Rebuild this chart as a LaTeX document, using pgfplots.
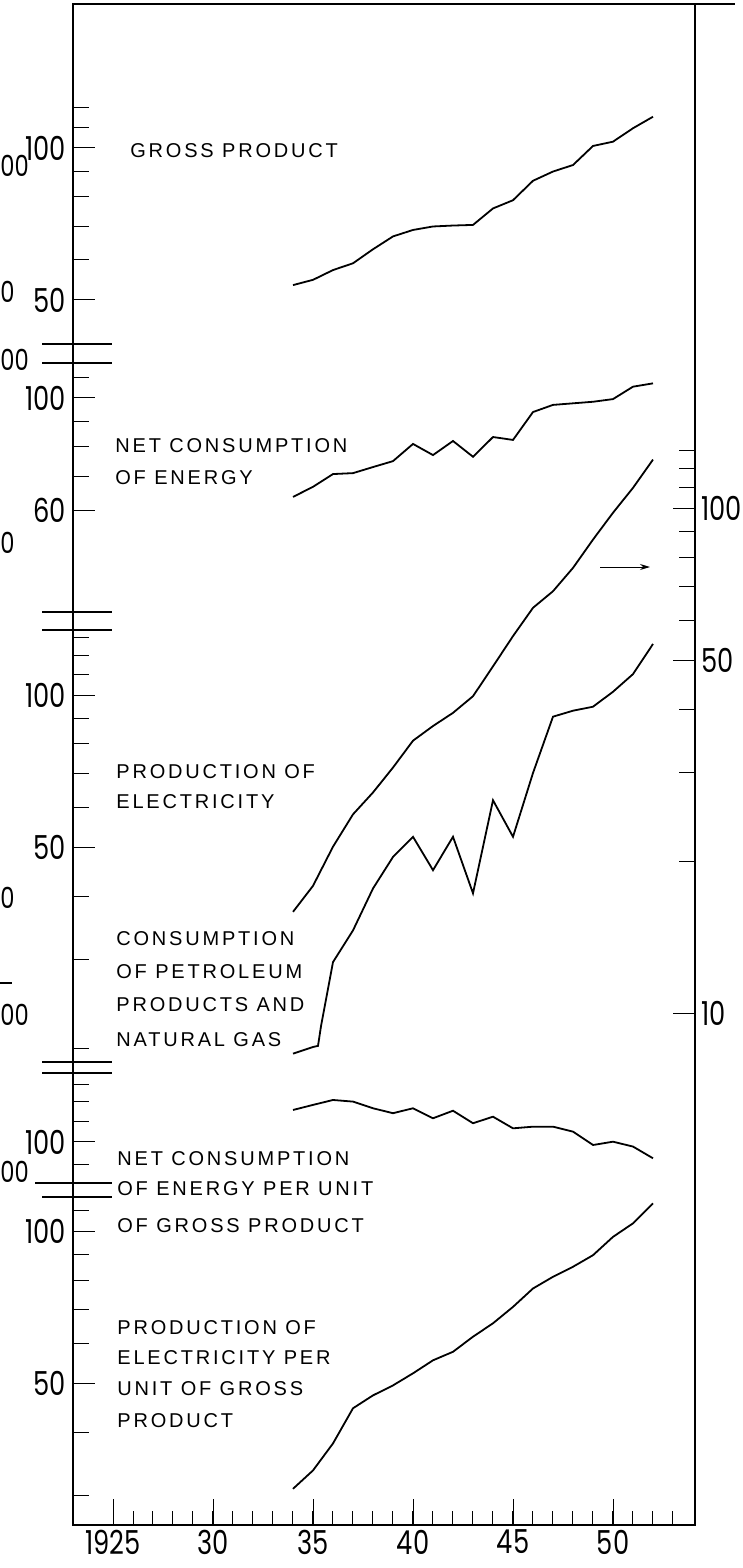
\documentclass[border=0pt]{standalone}
\usepackage{fontspec}
\setmainfont{Liberation Sans}
\newfontfamily\numfont[FakeStretch=0.78]{Poppins}
\newfontfamily\lblfont[LetterSpace=14]{Liberation Sans}
\usepackage{pgfplots}
\pgfplotsset{compat=1.18}
\usetikzlibrary{arrows.meta}

% 1 px of the reference = 0.5pt
\newcommand{\numsize}{\numfont\fontsize{16.5}{17}\selectfont}
\newcommand{\lbl}[3]{\node[anchor=base west,inner sep=0pt,font=\lblfont\fontsize{10}{16}\selectfont] at (#1,#2) {#3};}
\newcommand{\frag}[3]{\node[anchor=west,inner sep=0pt,font=\numfont\fontsize{14.5}{15}\selectfont] at (#1,#2) {#3};}

\pgfplotsset{
  panel/.style={
    scale only axis, width=311pt,
    anchor=south west,
    xmin=1923, xmax=1954.1,
    axis line style={draw=none},
    xtick=\empty,
    ytick pos=left,
    tick align=inside,
    major tick length=8pt,
    tick style={line width=0.5pt, black},
    yticklabels={},
    extra y tick style={major tick length=11pt},
    tick label style={font=\numsize},
    clip=false,
  },
  curve/.style={black, line width=0.9pt, no markers},
}

\begin{document}
\begin{tikzpicture}
\useasboundingbox (0pt,0pt) rectangle (371.5pt,-784pt);

% frame with the year axis
\begin{axis}[
  scale only axis, width=311pt, height=760.5pt,
  at={(36.5pt,-762.5pt)}, anchor=south west,
  xmin=1923, xmax=1954.1, ymin=0, ymax=1,
  ytick=\empty,
  xtick={1925,1930,1935,1940,1945,1950},
  xticklabels={1925,30,35,40,45,50},
  minor xtick={1926,1927,...,1953},
  xtick pos=bottom, tick align=inside,
  major tick length=13pt, minor tick length=7pt,
  tick style={line width=0.5pt, black},
  axis line style={line width=0.6pt},
  tick label style={font=\numsize},
  xticklabel style={yshift=1pt},
]
\end{axis}

% gross product
\begin{axis}[ymode=log, panel, at={(36.5pt,-172pt)}, height=170pt,
  ymin=40.9, ymax=192.8,
  ytick={60,70,80,90,110,120},
  extra y ticks={50,100}, extra y tick labels={50,100}]
\addplot[curve] coordinates {
  (1934,53.5) (1935,54.8) (1936,57.3) (1937,59.1) (1938,63.0) (1939,66.8)
  (1940,68.8) (1941,69.9) (1942,70.2) (1943,70.4) (1944,75.9) (1945,78.8)
  (1946,86.1) (1947,89.8) (1948,92.5) (1949,100.9) (1950,102.9) (1951,109.4)
  (1952,115.3)};
\end{axis}

% net consumption of energy
\begin{axis}[ymode=log, panel, at={(36.5pt,-306pt)}, height=124.5pt,
  ymin=37.7, ymax=117.3,
  ytick={70,80,90,110},
  extra y ticks={60,100}, extra y tick labels={60,100}]
\addplot[curve] coordinates {
  (1934,63.7) (1935,66.7) (1936,70.7) (1937,71.0) (1938,73.0) (1939,75.0)
  (1940,81.1) (1941,77.1) (1942,82.2) (1943,76.5) (1944,83.7) (1945,82.6)
  (1946,93.8) (1947,96.9) (1948,97.6) (1949,98.3) (1950,99.5) (1951,105.3)
  (1952,106.9)};
\end{axis}

% petroleum products and natural gas (left scale)
\begin{axis}[ymode=log, panel, at={(36.5pt,-531pt)}, height=216pt,
  ymin=18.77, ymax=134.5,
  ytick={20,30,40,60,70,80,90,110,120,130},
  extra y ticks={50,100}, extra y tick labels={50,100}]
\addplot[curve] coordinates {
  (1934,19.5) (1935,20.1) (1935.25,20.2) (1935.4,22.1) (1936,29.6) (1937,34.2)
  (1938,41.4) (1939,47.8) (1940,52.4) (1941,45.0) (1942,52.4) (1943,40.5)
  (1944,61.9) (1945,52.4) (1946,70.1) (1947,90.6) (1948,93.1) (1949,94.8)
  (1950,101.5) (1951,110.0) (1952,126.2)};
\end{axis}

% production of electricity (right scale)
\begin{axis}[ymode=log, panel, at={(36.5pt,-531pt)}, height=349.5pt,
  ymin=8.017, ymax=194.2,
  ytick pos=right, yticklabel pos=right,
  yticklabel style={xshift=-0.5pt},
  ytick={20,30,40,60,70,80,90,110,120,130},
  extra y ticks={10,50,100}, extra y tick labels={10,50,100}]
\addplot[curve] coordinates {
  (1934,15.9) (1935,17.9) (1936,21.4) (1937,24.8) (1938,27.4) (1939,30.7)
  (1940,34.7) (1941,37.1) (1942,39.4) (1943,42.5) (1944,48.7) (1945,55.9)
  (1946,63.6) (1947,68.6) (1948,76.3) (1949,86.8) (1950,98.1) (1951,109.9)
  (1952,125.0)};
\end{axis}

% energy per unit of gross product
\begin{axis}[ymode=log, panel, at={(36.5pt,-591.5pt)}, height=55pt,
  ymin=82.9, ymax=136.97,
  ytick={90,110,120,130},
  extra y ticks={100}, extra y tick labels={100}]
\addplot[curve] coordinates {
  (1934,115.7) (1935,118.4) (1936,121.1) (1937,120.2) (1938,116.6) (1939,114.0)
  (1940,116.6) (1941,111.4) (1942,115.3) (1943,108.9) (1944,112.2) (1945,106.4)
  (1946,107.2) (1947,107.2) (1948,104.8) (1949,98.6) (1950,100.1) (1951,97.9)
  (1952,92.8)};
\end{axis}

% electricity per unit of gross product
\begin{axis}[ymode=log, panel, at={(36.5pt,-762.5pt)}, height=164pt,
  ymin=26.2, ymax=116.8,
  ytick={30,40,60,70,80,90,110},
  extra y ticks={50,100}, extra y tick labels={50,100}]
\addplot[curve] coordinates {
  (1934,30.9) (1935,33.6) (1936,38.0) (1937,44.6) (1938,47.3) (1939,49.5)
  (1940,52.3) (1941,55.5) (1942,57.7) (1943,61.8) (1944,65.7) (1945,70.8)
  (1946,77.0) (1947,81.2) (1948,85.0) (1949,89.6) (1950,97.4) (1951,103.6)
  (1952,113.5)};
\end{axis}

% panel separators and top rule
\begin{scope}[line width=0.6pt]
\draw (347.5pt,-2pt) -- (367.5pt,-2pt);
\draw (21pt,-172pt) -- (56pt,-172pt);
\draw (21pt,-181.5pt) -- (56pt,-181.5pt);
\draw (21pt,-306pt) -- (56pt,-306pt);
\draw (21pt,-315pt) -- (56pt,-315pt);
\draw (21pt,-531pt) -- (56pt,-531pt);
\draw (21pt,-536.5pt) -- (56pt,-536.5pt);
\draw (17.5pt,-591.5pt) -- (56pt,-591.5pt);
\draw (21pt,-598.5pt) -- (56pt,-598.5pt);
\draw (0pt,-491.5pt) -- (6pt,-491.5pt);
\end{scope}
\draw[line width=0.5pt,-{Stealth[length=5pt,width=3pt]}] (300pt,-283.5pt) -- (325pt,-283.5pt);

% labels
\lbl{65pt}{-78.5pt}{GROSS PRODUCT}
\lbl{57.5pt}{-226pt}{NET CONSUMPTION}
\lbl{57.5pt}{-242pt}{OF ENERGY}
\lbl{58pt}{-389pt}{PRODUCTION OF}
\lbl{58pt}{-404pt}{ELECTRICITY}
\lbl{58pt}{-472.5pt}{CONSUMPTION}
\lbl{58pt}{-489pt}{OF PETROLEUM}
\lbl{58pt}{-505.5pt}{PRODUCTS AND}
\lbl{58pt}{-523pt}{NATURAL GAS}
\lbl{58.5pt}{-582.5pt}{NET CONSUMPTION}
\lbl{58.5pt}{-597.5pt}{OF ENERGY PER UNIT}
\lbl{58.5pt}{-616pt}{OF GROSS PRODUCT}
\lbl{58.5pt}{-667pt}{PRODUCTION OF}
\lbl{58.5pt}{-682pt}{ELECTRICITY PER}
\lbl{58.5pt}{-697.5pt}{UNIT OF GROSS}
\lbl{58.5pt}{-713.5pt}{PRODUCT}

% visible remains of the neighbouring chart's scale
\frag{0pt}{-83pt}{00}
\frag{0pt}{-146pt}{0}
\frag{0pt}{-180pt}{00}
\frag{0pt}{-271.5pt}{0}
\frag{0pt}{-449pt}{0}
\frag{0pt}{-507.5pt}{00}
\frag{0pt}{-586pt}{00}
\end{tikzpicture}
\end{document}
